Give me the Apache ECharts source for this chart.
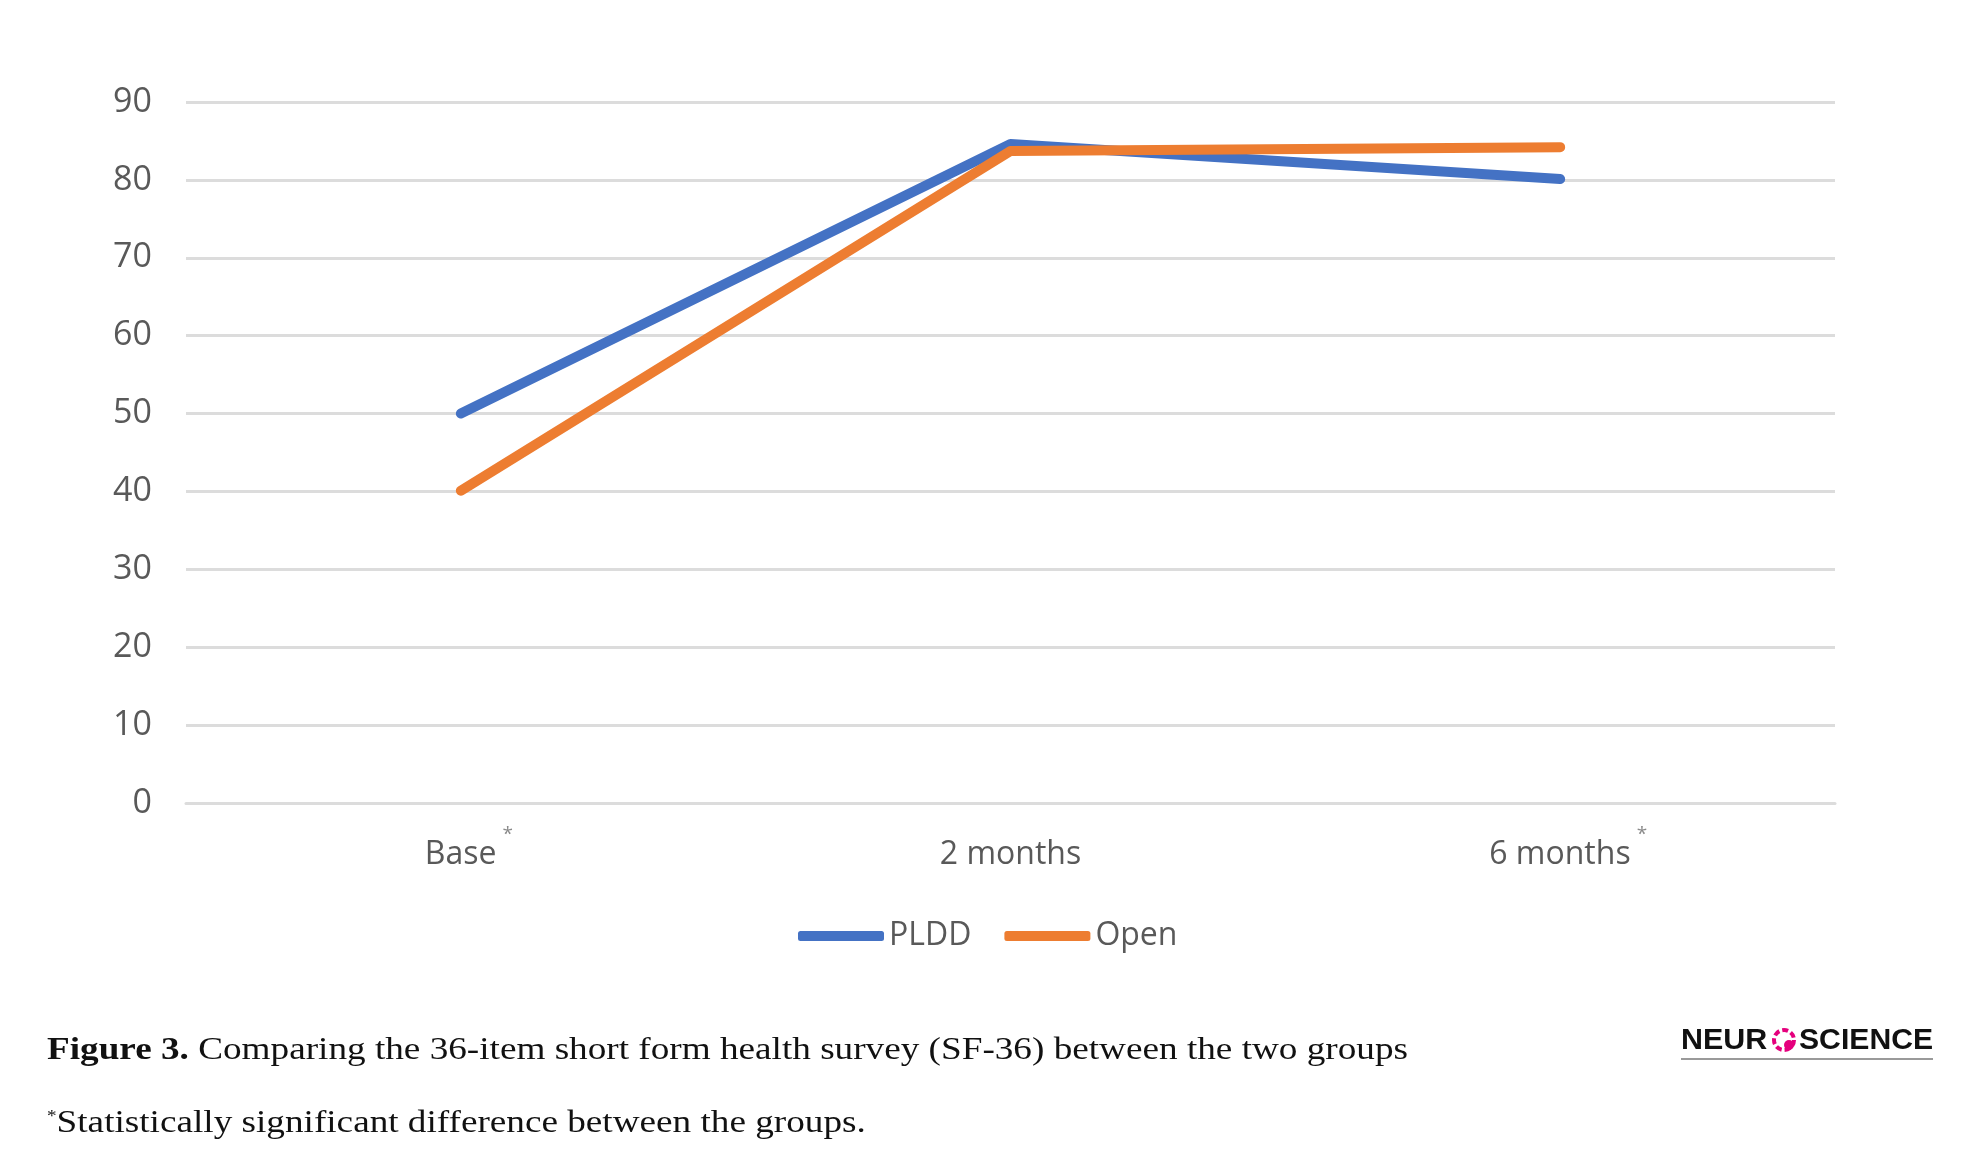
<!DOCTYPE html>
<html>
<head>
<meta charset="utf-8">
<script src="https://cdn.jsdelivr.net/npm/echarts@6/dist/echarts.min.js"></script>
<style>
html,body{margin:0;padding:0;background:#fff;}
#main{width:1962px;height:1172px;}
</style>
</head>
<body>
<div id="main"></div>
<script>
const categories = ['Base', '2 months', '6 months'];
const significant = [true, false, true];
const pldd = [50, 84.6, 80.1];
const open = [40.1, 83.7, 84.2];
const yTicks = [0, 10, 20, 30, 40, 50, 60, 70, 80, 90];
const seriesNames = ['PLDD', 'Open'];

const chart = echarts.init(document.getElementById('main'));
const grey = '#595959';
const font = 'Open Sans';

const option = {
  backgroundColor: '#ffffff',
  animation: false,
  grid: { left: 186, right: 127, top: 102, bottom: 369, containLabel: false },
  legend: {
    data: seriesNames,
    left: 793,
    top: 915,
    icon: 'roundRect',
    itemWidth: 86,
    itemHeight: 10,
    itemGap: 33,
    textStyle: { fontFamily: font, fontSize: 32, color: grey }
  },
  xAxis: {
    type: 'category',
    data: categories,
    boundaryGap: true,
    axisLine: { show: true, lineStyle: { color: '#DCDCDC', width: 3 } },
    axisTick: { show: false },
    axisLabel: {
      margin: 22,
      formatter: function (v, i) {
        return significant[i] ? '{p| }{a|' + v + '}{s|*}' : '{a|' + v + '}';
      },
      rich: {
        p: { fontSize: 19, width: 16, lineHeight: 20 },
        a: { fontFamily: font, fontSize: 32, color: grey, lineHeight: 60 },
        s: { fontFamily: font, fontSize: 19, color: '#8a8a8a', lineHeight: 20, verticalAlign: 'top', padding: [0, 0, 0, 6] }
      }
    }
  },
  yAxis: {
    type: 'value',
    min: yTicks[0],
    max: yTicks[yTicks.length - 1],
    interval: 10,
    axisLine: { show: false },
    axisTick: { show: false },
    splitLine: { lineStyle: { color: '#DCDCDC', width: 3 } },
    axisLabel: { margin: 34, fontFamily: font, fontSize: 34, color: grey }
  },
  series: [
    {
      name: seriesNames[0], type: 'line', data: pldd, symbol: 'none',
      lineStyle: { color: '#4472C4', width: 10, cap: 'round', join: 'round' },
      itemStyle: { color: '#4472C4' }, z: 2
    },
    {
      name: seriesNames[1], type: 'line', data: open, symbol: 'none',
      lineStyle: { color: '#ED7D31', width: 10, cap: 'round', join: 'round' },
      itemStyle: { color: '#ED7D31' }, z: 3
    }
  ],
  graphic: [
    {
      type: 'text', x: 47, y: 1051, scaleX: 1.2,
      style: {
        text: '{b|Figure 3.} Comparing the 36-item short form health survey (SF-36) between the two groups',
        fill: '#111',
        font: '31px "Liberation Serif"',
        verticalAlign: 'middle',
        rich: {
          b: { fontFamily: 'Liberation Serif', fontWeight: 'bold', fontSize: 31, fill: '#111' }
        }
      }
    },
    {
      type: 'text', x: 47, y: 1124, scaleX: 1.2,
      style: {
        text: '{s|*}Statistically significant difference between the groups.',
        fill: '#111',
        font: '31px "Liberation Serif"',
        verticalAlign: 'middle',
        rich: {
          s: { fontFamily: 'Liberation Serif', fontSize: 16, fill: '#111', lineHeight: 16, verticalAlign: 'top' }
        }
      }
    },
    {
      type: 'text', x: 1681, y: 1026, scaleX: 1.05,
      style: { text: 'NEUR', font: 'bold 29px "Liberation Sans"', fill: '#111' }
    },
    {
      type: 'text', x: 1799, y: 1026, scaleX: 1.04,
      style: { text: 'SCIENCE', font: 'bold 29px "Liberation Sans"', fill: '#111' }
    },
    {
      type: 'circle', shape: { cx: 1784, cy: 1040, r: 10 },
      style: { fill: 'none', stroke: '#E5007D', lineWidth: 4, lineDash: [6, 3] }
    },
    {
      type: 'circle', shape: { cx: 1789, cy: 1045, r: 5 },
      style: { fill: '#E5007D' }
    },
    {
      type: 'line', shape: { x1: 1681, y1: 1059, x2: 1933, y2: 1059 },
      style: { stroke: '#9a9a9a', lineWidth: 2 }
    }
  ]
};
chart.setOption(option);
</script>
</body>
</html>
